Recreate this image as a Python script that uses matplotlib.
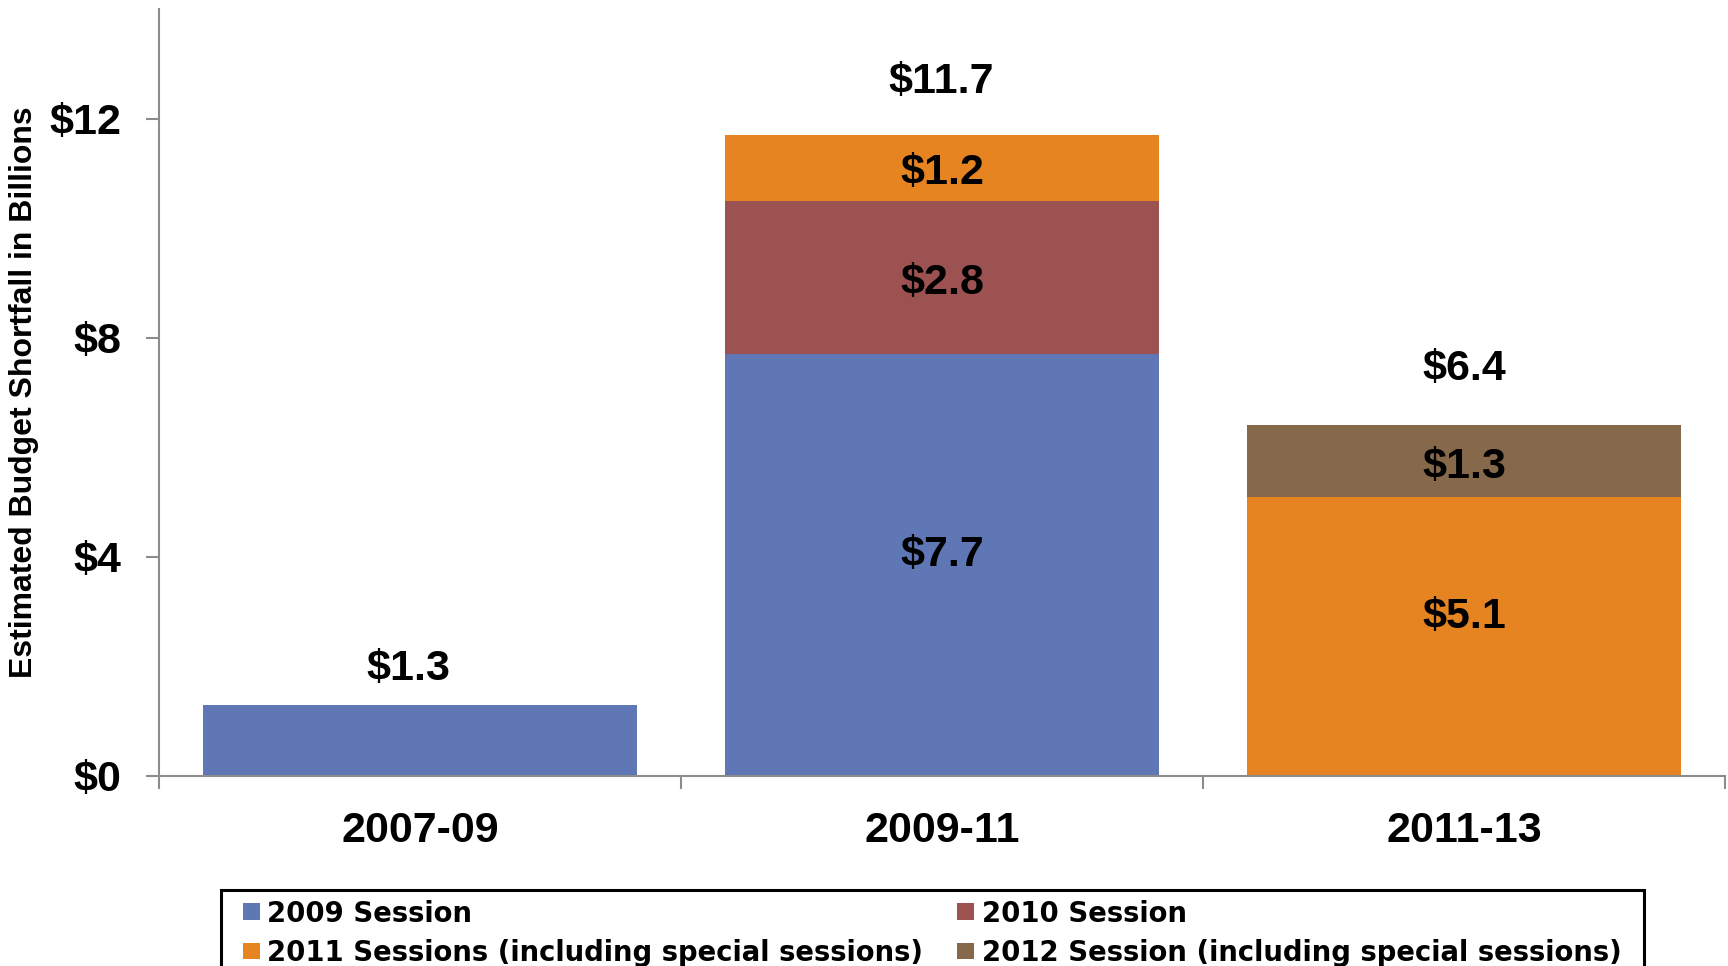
import matplotlib
matplotlib.use("Agg")
import matplotlib.pyplot as plt
from matplotlib.patches import Patch, Rectangle
import numpy as np

plt.rcParams['font.family'] = ['Liberation Sans', 'DejaVu Sans']

categories = ["2007-09", "2009-11", "2011-13"]
series_names = ["2009 Session", "2010 Session",
                "2011 Sessions (including special sessions)",
                "2012 Session (including special sessions)"]
s2009 = [1.3, 7.7, 0.0]
s2010 = [0.0, 2.8, 0.0]
s2011 = [0.0, 1.2, 5.1]
s2012 = [0.0, 0.0, 1.3]
totals = [1.3, 11.7, 6.4]
yticks = [0, 4, 8, 12]
ytick_labels = ["$0", "$4", "$8", "$12"]

colors = ["#6077B5", "#9D5252", "#E68422", "#86694B"]

W, H, DPI = 1728, 966, 100
PX = 72 / DPI  # points per pixel
fig = plt.figure(figsize=(W / DPI, H / DPI), dpi=DPI)
ax = fig.add_axes([159 / W, 1 - 776 / H, (1725 - 159) / W, (776 - 9) / H])

x = np.arange(len(categories))
width = 0.83
series = [s2009, s2010, s2011, s2012]

# baseline offsets (pixels, positive = downwards) of segment labels from segment centre
seg_label_dy = {(0, 1): 0.5, (1, 1): 16.7, (2, 1): 16.3, (2, 2): -8.0, (3, 2): 17.0}
# baseline offsets (pixels above bar top) / horizontal shifts of total labels
tot_label_dy = [25, 42, 45]
tot_label_dx = [-12, -1, 0]

bottom = np.zeros(len(categories))
for si, (vals, col) in enumerate(zip(series, colors)):
    vals = np.array(vals)
    ax.bar(x, vals, width, bottom=bottom, color=col, edgecolor='none', zorder=2)
    for xi, v, b in zip(x, vals, bottom):
        if (si, xi) in seg_label_dy:
            ax.annotate(f"${v:.1f}", (xi, b + v / 2),
                        xytext=(0, -seg_label_dy[(si, xi)] * PX),
                        textcoords='offset points', ha='center', va='baseline',
                        fontsize=31, fontweight='bold', color='black', zorder=3)
    bottom = bottom + vals

for xi, t, dy, dx in zip(x, totals, tot_label_dy, tot_label_dx):
    ax.annotate(f"${t:.1f}", (xi, t), xytext=(dx * PX, dy * PX),
                textcoords='offset points', ha='center', va='baseline',
                fontsize=31, fontweight='bold', color='black')

ax.set_xlim(-0.5, 2.5)
ax.set_ylim(0, 14)
ax.set_yticks(yticks)
ax.set_yticklabels(ytick_labels)
ax.set_xticks(x)
ax.set_xticklabels(categories)
ax.set_xticks([-0.5, 0.5, 1.5, 2.5], minor=True)

gray = "#8C8C8C"
for s in ['top', 'right']:
    ax.spines[s].set_visible(False)
for s in ['left', 'bottom']:
    ax.spines[s].set_color(gray)
    ax.spines[s].set_linewidth(1.5)

ax.tick_params(axis='y', which='major', length=13 * PX, width=1.5,
               color=gray, pad=25 * PX, labelsize=31)
ax.tick_params(axis='x', which='major', length=0, pad=35 * PX, labelsize=31)
ax.tick_params(axis='x', which='minor', length=13 * PX, width=1.5, color=gray)
for lab in ax.get_yticklabels() + ax.get_xticklabels():
    lab.set_fontweight('bold')

fig.text(24 / W, 1 - 392 / H, "Estimated Budget Shortfall in Billions",
         rotation=90, ha='center', va='center', fontsize=23, fontweight='bold')

# legend frame
fig.patches.append(Rectangle((221 / W, -0.05), (1644 - 221) / W, (1 - 890 / H) + 0.05,
                             transform=fig.transFigure, fill=False,
                             edgecolor='black', linewidth=2.2))

handles = [Patch(facecolor=c, edgecolor='none') for c in colors]
order = [0, 2, 1, 3]
leg = fig.legend([handles[i] for i in order], [series_names[i] for i in order],
                 ncol=2, loc='upper left',
                 bbox_to_anchor=(242.5 / W, 1 - 899.5 / H),
                 bbox_transform=fig.transFigure,
                 prop={'family': 'DejaVu Sans', 'weight': 'bold', 'size': 19.8},
                 frameon=False,
                 handlelength=0.62, handleheight=0.55, handletextpad=0.28,
                 columnspacing=1.24, labelspacing=0.41, borderpad=0,
                 borderaxespad=0)

fig.savefig("out.png", dpi=DPI)
